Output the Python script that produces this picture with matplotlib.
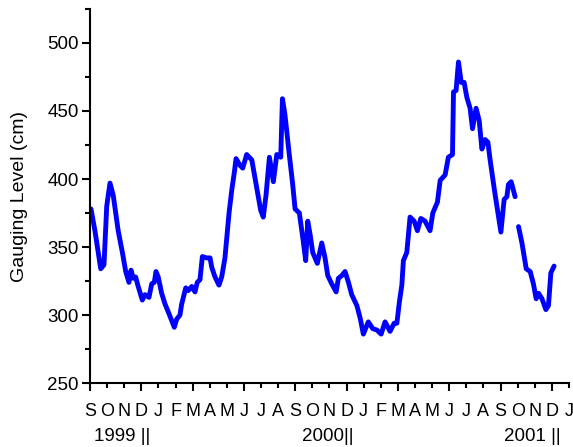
import numpy as np
import matplotlib.pyplot as plt
from matplotlib.ticker import MultipleLocator, FixedLocator

plt.rcParams['font.family'] = ['Liberation Sans', 'DejaVu Sans']

# months counted from Sep 1999 (0) to Jan 2002 (28)
month_labels = list("SONDJFMAMJJASONDJFMAMJJASONDJ")
year_labels = ["1999 ||", "2000||", "2001 ||"]
year_pos = [1.87, 13.9, 25.85]

months = [0.06, 0.29, 0.63, 0.82, 0.98, 1.17, 1.36, 1.65, 1.91, 2.09,
          2.28, 2.40, 2.53, 2.67, 2.82, 3.06, 3.22, 3.45, 3.61, 3.76,
          3.86, 3.99, 4.19, 4.39, 4.62, 4.93, 5.07, 5.26, 5.36, 5.60,
          5.75, 5.95, 6.14, 6.27, 6.43, 6.57, 6.82, 7.02, 7.12, 7.31,
          7.54, 7.70, 7.89, 8.13, 8.29, 8.44, 8.54, 8.77, 8.93, 9.16,
          9.46, 9.71, 9.98, 10.13, 10.29, 10.49, 10.72, 10.92, 11.15, 11.25,
          11.40, 11.65, 11.85, 11.99, 12.24, 12.47, 12.61, 12.73, 12.87, 13.02,
          13.29, 13.55, 13.74, 13.90, 14.13, 14.39, 14.52, 14.72, 14.91, 15.11,
          15.30, 15.60, 15.79, 15.98, 16.27, 16.53, 16.77, 17.02, 17.25, 17.54,
          17.78, 17.94, 18.09, 18.23, 18.32, 18.52, 18.71, 18.95, 19.14, 19.34,
          19.59, 19.88, 20.04, 20.31, 20.47, 20.76, 20.95, 21.19, 21.25, 21.40,
          21.54, 21.70, 21.87, 22.03, 22.22, 22.36, 22.57, 22.75, 22.91, 23.10,
          23.26, 23.39, 23.64, 24.02, 24.21, 24.37, 24.46, 24.62, 24.85, 24.95,
          25.05, 25.25, 25.50, 25.73, 25.92, 26.08, 26.22, 26.42, 26.65, 26.80,
          26.94, 27.13]
level = [378, 362, 334, 337, 380, 397, 388, 362, 345, 332,
         324, 333, 327, 328, 321, 311, 315, 313, 323, 324,
         332, 328, 316, 308, 301, 291, 297, 300, 308, 320,
         318, 321, 317, 324, 326, 343, 342, 342, 335, 328,
         322, 328, 342, 375, 392, 405, 415, 410, 408, 418,
         414, 396, 377, 372, 388, 416, 398, 418, 416, 459,
         447, 418, 396, 378, 375, 354, 340, 369, 359, 346,
         338, 353, 342, 329, 323, 317, 327, 329, 332, 324,
         315, 307, 298, 286, 295, 290, 289, 286, 295, 288,
         294, 294, 310, 322, 340, 346, 372, 369, 362, 371,
         369, 362, 375, 383, 399, 403, 416, 418, 464, 465,
         486, 471, 471, 460, 452, 437, 452, 443, 422, 429,
         427, 414, 392, 361, 385, 387, 396, 398, 387, np.nan,
         365, 353, 334, 332, 323, 312, 316, 312, 304, 307,
         331, 336]

fig = plt.figure(figsize=(5.73, 4.47), dpi=100)
ax = fig.add_axes([0.157, 0.143, 0.836, 0.837])
ax.plot(months, level, color='#0000ff', lw=3.5,
        solid_joinstyle='round', solid_capstyle='round')

ax.set_xlim(0, 28)
ax.set_ylim(250, 525)
ax.xaxis.set_major_locator(FixedLocator(np.arange(0, 29, 3)))
ax.xaxis.set_minor_locator(FixedLocator(np.arange(0, 29, 1)))
ax.xaxis.set_major_formatter(plt.NullFormatter())
ax.yaxis.set_major_locator(MultipleLocator(50))
ax.yaxis.set_minor_locator(MultipleLocator(25))

for i, lab in enumerate(month_labels):
    ax.annotate(lab, xy=(i, 0), xycoords=('data', 'axes fraction'),
                xytext=(0, -14), textcoords='offset points',
                ha='center', va='top', fontsize=13)
for pos, lab in zip(year_pos, year_labels):
    ax.annotate(lab, xy=(pos, 0), xycoords=('data', 'axes fraction'),
                xytext=(0, -32), textcoords='offset points',
                ha='center', va='top', fontsize=13.5)

ax.spines['top'].set_visible(False)
ax.spines['right'].set_visible(False)
ax.spines['left'].set_linewidth(1.5)
ax.spines['bottom'].set_linewidth(1.5)
ax.tick_params(which='major', direction='out', length=6, width=1.5,
               labelsize=13.5, pad=2)
ax.tick_params(which='minor', direction='out', length=3.5, width=1.5)
ax.set_ylabel('Gauging Level (cm)', fontsize=14, labelpad=14)

fig.savefig('out.png')
